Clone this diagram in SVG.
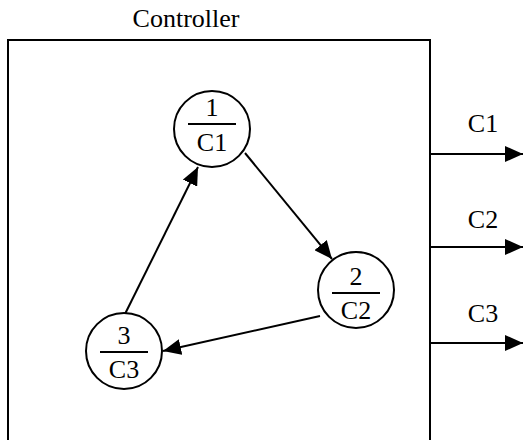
<svg xmlns="http://www.w3.org/2000/svg" width="525" height="440" viewBox="0 0 525 440">
<style>
text{font-family:"Liberation Serif","Times New Roman",serif;font-size:26px;fill:#000;text-anchor:middle}
.c{fill:#fff;stroke:#000;stroke-width:2}
.f{stroke:#000;stroke-width:2}
.e{stroke:#000;stroke-width:2;fill:none}
</style>
<defs>
<marker id="ah" markerUnits="userSpaceOnUse" markerWidth="20" markerHeight="16" refX="18" refY="8" orient="auto">
<path d="M0,0 L18,8 L0,16 Z" fill="#000"/>
</marker>
</defs>
<rect width="525" height="440" fill="#fff"/>
<g id="controller">
<text x="186" y="27">Controller</text>
<path class="e" d="M8,441 V40 H430 V441"/>
</g>
<g id="connectors">
<line class="e" x1="245" y1="153" x2="332" y2="259" marker-end="url(#ah)"/>
<line class="e" x1="320" y1="316" x2="163" y2="351" marker-end="url(#ah)"/>
<line class="e" x1="125" y1="314" x2="198" y2="167" marker-end="url(#ah)"/>
<line class="e" x1="431" y1="154" x2="523" y2="154" marker-end="url(#ah)"/>
<line class="e" x1="431" y1="247" x2="523" y2="247" marker-end="url(#ah)"/>
<line class="e" x1="431" y1="343" x2="523" y2="343" marker-end="url(#ah)"/>
</g>
<g id="state1">
<circle class="c" cx="212" cy="129" r="38"/>
<text x="212" y="116">1</text>
<line class="f" x1="188" y1="124" x2="236" y2="124"/>
<text x="212" y="151">C1</text>
</g>
<g id="state2">
<circle class="c" cx="356" cy="290" r="38"/>
<text x="356" y="285">2</text>
<line class="f" x1="332" y1="293" x2="380" y2="293"/>
<text x="356" y="319">C2</text>
</g>
<g id="state3">
<circle class="c" cx="124" cy="351" r="38"/>
<text x="124" y="344">3</text>
<line class="f" x1="100" y1="352" x2="148" y2="352"/>
<text x="124" y="378">C3</text>
</g>
<g id="outputs">
<text x="483" y="132">C1</text>
<text x="483" y="228">C2</text>
<text x="483" y="322">C3</text>
</g>
</svg>
